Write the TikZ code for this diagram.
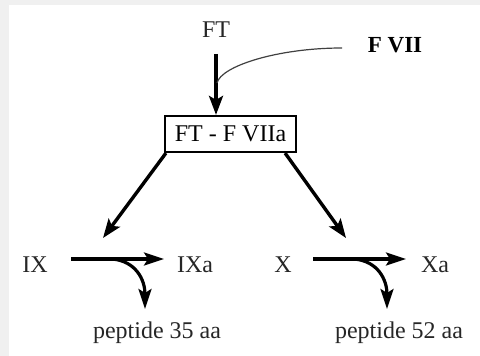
\documentclass[tikz,border=0pt]{standalone}
\usepackage{fontspec}
\setmainfont{Liberation Serif}
\usetikzlibrary{arrows.meta}
\begin{document}
\begin{tikzpicture}[x=0.5pt,y=-0.5pt,
  lbl/.style={font=\fontsize{12}{14}\selectfont, inner sep=0pt, anchor=base, text=black!85},
  bold/.style={font=\fontsize{11.5}{13}\selectfont\bfseries, inner sep=0pt, anchor=base},
  arr/.style={line width=1.7pt, -{Stealth[length=9.5pt,width=7pt,inset=2pt]}},
  harr/.style={line width=1.6pt, -{Stealth[length=10pt,width=6.5pt,inset=2pt]}},
  thin/.style={line width=0.6pt, draw=black!75},
  boxst/.style={draw, line width=1.1pt, minimum width=65.5pt, minimum height=18pt, inner sep=0pt,
    font=\fontsize{12}{14}\selectfont}]
\useasboundingbox (0,0) rectangle (480,356);
\fill[black!6] (0,0) rectangle (480,5);
\fill[black!6] (0,0) rectangle (9,356);
% nodes
\node[lbl] (FT) at (216,38) {FT};
\node[bold] (FVII) at (395,53) {F VII};
\node[boxst] (box) at (230.5,134) {FT - F VIIa};
\node[lbl] (IX) at (35,273) {IX};
\node[lbl] (IXa) at (195,273) {IXa};
\node[lbl] (X) at (283,273) {X};
\node[lbl] (Xa) at (435,273) {Xa};
\node[lbl] (p35) at (157,339) {peptide 35 aa};
\node[lbl] (p52) at (399,339) {peptide 52 aa};
% coordinates
\coordinate (ftb) at (216,54);
\coordinate (fv) at (342,48);
\coordinate (fj) at (217,83);
\coordinate (t1) at (103,238);
\coordinate (t2) at (346,238);
\coordinate (a1) at (71,259);
\coordinate (a2) at (164,259);
\coordinate (b1) at (313,259);
\coordinate (b2) at (406,259);
\coordinate (c1) at (112,259);
\coordinate (c2) at (145,309);
\coordinate (d1) at (354,259);
\coordinate (d2) at (387,309);
% connectors
\draw[arr] (ftb) -- (box.north -| ftb);
\draw[thin] (fv) .. controls (278,48) and (221,66) .. (fj);
\draw[arr] ([xshift=1pt]box.south west) -- (t1);
\draw[arr] ([xshift=-6pt]box.south east) -- (t2);
\draw[harr] (a1) -- (a2);
\draw[harr] (b1) -- (b2);
\draw[harr] (c1) .. controls (136,261) and (145,280) .. (c2);
\draw[harr] (d1) .. controls (378,261) and (387,280) .. (d2);
\end{tikzpicture}
\end{document}
